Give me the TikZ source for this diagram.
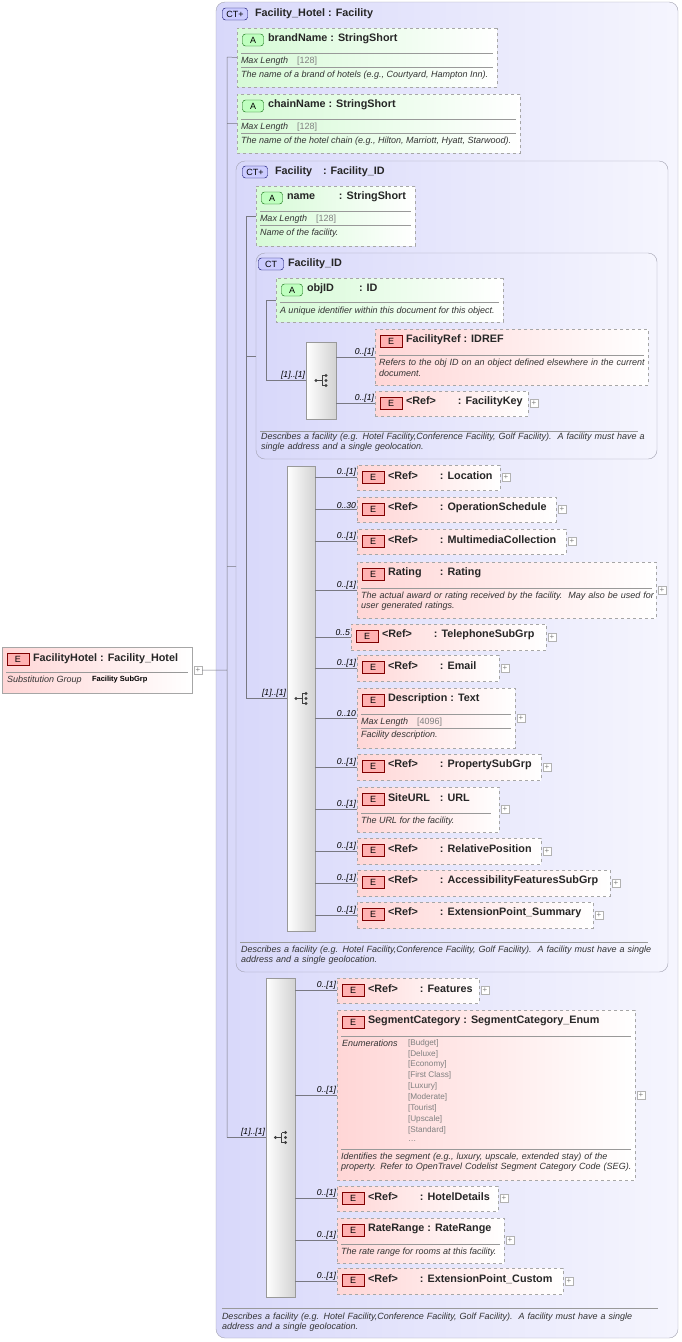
\documentclass[tikz,border=0pt]{standalone}
\usepackage{fontspec}
\setmainfont{Liberation Sans}
\usetikzlibrary{arrows.meta,positioning,shapes.misc}

\definecolor{elfill}{RGB}{255,214,214}
\definecolor{atfill}{RGB}{214,250,214}
\definecolor{ctfill}{RGB}{216,216,250}
\definecolor{ctedge}{RGB}{160,160,175}
\definecolor{wirec}{RGB}{120,120,130}

\newcommand\ttlfont{\fontsize{10.8}{11}\selectfont\bfseries}
\newcommand\nm[1]{\makebox[52pt][l]{#1}}
% id, x, y, w, h, box style, badge style, name, type
\newcommand\ebox[9]{%
  \node[#6, minimum width=#4, minimum height=#5, anchor=north west] (#1) at (#2,#3) {};
  \node[#7] (#1-b) at ([xshift=16,yshift=-12]#1.north west) {};
  \node[ttl, anchor=west] (#1-t) at ([xshift=31,yshift=-11]#1.north west) {#8: #9};}
\newcommand\plusbox[1]{\node[plus, right=2pt of #1] (#1-p) {};}
\newcommand\child[3]{%
  \draw[wire] (#1.east |- #2.west) -- (#2.west)
    node[mult, pos=1, anchor=south east] {#3};}

\begin{document}
\hyphenpenalty=10000 \exhyphenpenalty=10000
\begin{tikzpicture}[x=1pt,y=-1pt,
  every node/.style={inner sep=0pt, outer sep=0pt},
  ebox/.style={draw=gray!70, dashed, left color=elfill, right color=white},
  abox/.style={chamfered rectangle, chamfered rectangle corners={north west,south west},
    chamfered rectangle xsep=4pt, draw=gray!70, dashed, left color=atfill, right color=white},
  ebadge/.style={draw=red!50!black, fill=red!30, minimum width=22, minimum height=12,
    label={[font=\fontsize{9}{9}\selectfont]center:E}},
  abadge/.style={draw=green!40!black, fill=green!25, rounded corners=3pt, minimum width=21,
    minimum height=12, label={[font=\fontsize{9}{9}\selectfont]center:A}},
  ctbox/.style={draw=ctedge, rounded corners=9pt, left color=ctfill, right color=ctfill!25},
  ctbadge/.style={draw=blue!40!black, fill=blue!20, rounded corners=3pt, minimum width=25,
    minimum height=12, font=\fontsize{9}{9}\selectfont},
  seqbox/.style={draw=gray!80, left color=white, right color=gray!35},
  ttl/.style={font=\ttlfont, text=black!85},
  note/.style={anchor=west, font=\fontsize{9}{10.5}\selectfont\itshape, text=black!80},
  enumv/.style={anchor=west, font=\fontsize{8.2}{9}\selectfont, text=gray},
  mult/.style={font=\fontsize{8.6}{9}\selectfont\itshape, inner sep=1pt},
  wire/.style={draw=wirec, line width=.5pt},
  sepl/.style={draw=gray!80, line width=.5pt},
  plus/.style={draw=gray!60, minimum size=8pt, fill=white,
    label={[gray, font=\fontsize{8}{8}\selectfont]center:+}}]
\useasboundingbox (0,0) rectangle (681,1342);

% containers
\node[ctbox, minimum width=462, minimum height=1336, anchor=north west] (hotel) at (216,2) {};
\node[ctbadge] (hotel-b) at (235,14) {CT+};
\node[ttl, anchor=west] at (255,14) {Facility\_Hotel : Facility};
\node[ctbox, minimum width=432, minimum height=811, anchor=north west] (fac) at (236,161) {};
\node[ctbadge] (fac-b) at (255,172) {CT+};
\node[ttl, anchor=west] at (275,172) {Facility\quad: Facility\_ID};
\node[ctbox, minimum width=401, minimum height=206, anchor=north west] (facid) at (256,253) {};
\node[ctbadge] (facid-b) at (271,264) {CT};
\node[ttl, anchor=west] at (288,264) {Facility\_ID};

% root element
\node[draw=gray!70, left color=elfill, right color=white, minimum width=190, minimum height=46,
  anchor=north west] (fh) at (2,647) {};
\node[ebadge] (fh-b) at (18,659) {};
\node[ttl, anchor=west] at (33,659) {FacilityHotel : Facility\_Hotel};
\draw[sepl] (6,672) -- (188,672);
\node[note] at (7,680) {Substitution Group};
\node[anchor=west, font=\fontsize{7.5}{8}\selectfont\bfseries] at (92,680) {Facility SubGrp};
\plusbox{fh}

% sequences
\node[seqbox, minimum width=30, minimum height=77, anchor=north west] (seq1) at (306,342) {};
\node[seqbox, minimum width=28, minimum height=465, anchor=north west] (seq2) at (287,466) {};
\node[seqbox, minimum width=29, minimum height=319, anchor=north west] (seq3) at (266,978) {};
\foreach \s in {seq1,seq2,seq3}{
  \fill[black!75] ([xshift=-5]\s.center) circle (1.6pt);
  \draw[black!75, line width=.7pt] ([xshift=-5]\s.center) -- ([xshift=1]\s.center)
    ([xshift=1,yshift=-5]\s.center) -- ([xshift=1,yshift=5]\s.center)
    ([xshift=1,yshift=-5]\s.center) -- ([xshift=5,yshift=-5]\s.center)
    ([xshift=1,yshift=5]\s.center) -- ([xshift=5,yshift=5]\s.center);
  \foreach \d in {-5,0,5} \fill[black!75] ([xshift=5,yshift=\d]\s.center) circle (1.6pt);
}

% attributes and elements
\ebox{brand}{237}{28}{260}{59}{abox}{abadge}{brandName }{StringShort}
\draw[sepl] (241,53) -- (493,53); \draw[sepl] (241,67) -- (493,67);
\node[note] at (241,61) {Max Length\quad{\upshape\color{gray}[128]}};
\node[note] at (241,75) {The name of a brand of hotels (e.g., Courtyard, Hampton Inn).};
\ebox{chain}{237}{94}{283}{59}{abox}{abadge}{chainName }{StringShort}
\draw[sepl] (241,119) -- (516,119); \draw[sepl] (241,133) -- (516,133);
\node[note] at (241,127) {Max Length\quad{\upshape\color{gray}[128]}};
\node[note] at (241,141) {The name of the hotel chain (e.g., Hilton, Marriott, Hyatt, Starwood).};
\ebox{name}{256}{186}{159}{60}{abox}{abadge}{\makebox[52pt][l]{name}}{StringShort}
\draw[sepl] (260,211) -- (411,211); \draw[sepl] (260,225) -- (411,225);
\node[note] at (260,219) {Max Length\quad{\upshape\color{gray}[128]}};
\node[note] at (260,233) {Name of the facility.};
\ebox{objid}{276}{278}{227}{44}{abox}{abadge}{\makebox[52pt][l]{objID}}{ID}
\draw[sepl] (280,302) -- (499,302);
\node[note] at (280,311) {A unique identifier within this document for this object.};
\ebox{fref}{375}{329}{273}{56}{ebox}{ebadge}{FacilityRef }{IDREF}
\draw[sepl] (379,355) -- (644,355);
\node[note, align=left, text width=268] at (379,368) {Refers to the obj ID on an object defined elsewhere in the current document.};
\ebox{fkey}{375}{391}{153}{25}{ebox}{ebadge}{\nm{<Ref>}}{FacilityKey}
\plusbox{fkey}
\draw[sepl] (260,431) -- (638,431);
\node[note, align=left, text width=392] at (261,442) {Describes a facility (e.g. Hotel Facility,Conference Facility, Golf Facility).\ \ A facility must have a single address and a single geolocation.};

% Facility children
\ebox{loc}{357}{465}{143}{25}{ebox}{ebadge}{\nm{<Ref>}}{Location}
\ebox{opsch}{357}{497}{199}{25}{ebox}{ebadge}{\nm{<Ref>}}{OperationSchedule}
\ebox{mmc}{357}{529}{209}{25}{ebox}{ebadge}{\nm{<Ref>}}{MultimediaCollection}
\ebox{rating}{357}{562}{299}{56}{ebox}{ebadge}{\nm{Rating}}{Rating}
\draw[sepl] (361,588) -- (652,588);
\node[note, align=left, text width=294] at (361,601) {The actual award or rating received by the facility.\ \ May also be used for user generated ratings.};
\ebox{tel}{351}{624}{195}{26}{ebox}{ebadge}{\nm{<Ref>}}{TelephoneSubGrp}
\ebox{email}{357}{655}{142}{26}{ebox}{ebadge}{\nm{<Ref>}}{Email}
\ebox{descr}{357}{688}{158}{60}{ebox}{ebadge}{Description }{Text}
\draw[sepl] (361,714) -- (511,714); \draw[sepl] (361,728) -- (511,728);
\node[note] at (361,722) {Max Length\quad{\upshape\color{gray}[4096]}};
\node[note] at (361,735) {Facility description.};
\ebox{prop}{357}{754}{184}{26}{ebox}{ebadge}{\nm{<Ref>}}{PropertySubGrp}
\ebox{site}{357}{787}{142}{45}{ebox}{ebadge}{\nm{SiteURL}}{URL}
\draw[sepl] (361,813) -- (491,813);
\node[note] at (361,821) {The URL for the facility.};
\ebox{relpos}{357}{838}{184}{26}{ebox}{ebadge}{\nm{<Ref>}}{RelativePosition}
\ebox{access}{357}{870}{253}{26}{ebox}{ebadge}{\nm{<Ref>}}{AccessibilityFeaturesSubGrp}
\ebox{extsum}{357}{902}{236}{26}{ebox}{ebadge}{\nm{<Ref>}}{ExtensionPoint\_Summary}
\foreach \e in {loc,opsch,mmc,rating,tel,email,descr,prop,site,relpos,access,extsum} {\plusbox{\e}}
\draw[sepl] (240,942) -- (648,942);
\node[note, align=left, text width=415] at (241,955) {Describes a facility (e.g. Hotel Facility,Conference Facility, Golf Facility).\ \ A facility must have a single address and a single geolocation.};

% Facility_Hotel children
\ebox{feat}{337}{978}{142}{25}{ebox}{ebadge}{\nm{<Ref>}}{Features}
\ebox{segcat}{337}{1010}{298}{170}{ebox}{ebadge}{SegmentCategory }{SegmentCategory\_Enum}
\draw[sepl] (341,1036) -- (631,1036); \draw[sepl] (341,1149) -- (631,1149);
\node[note] at (342,1043) {Enumerations};
\foreach \v [count=\i from 0] in {[Budget],[Deluxe],[Economy],[First Class],[Luxury],[Moderate],[Tourist],[Upscale],[Standard]}
  \node[enumv] at (408,1043+10.9*\i) {\v};
\node[enumv] at (408,1141) {\ldots};
\node[note, align=left, text width=294] at (341,1162) {Identifies the segment (e.g., luxury, upscale, extended stay) of the property. Refer to OpenTravel Codelist Segment Category Code (SEG).};
\ebox{hdet}{337}{1186}{161}{25}{ebox}{ebadge}{\nm{<Ref>}}{HotelDetails}
\ebox{rate}{337}{1218}{167}{45}{ebox}{ebadge}{RateRange }{RateRange}
\draw[sepl] (341,1244) -- (500,1244);
\node[note] at (341,1252) {The rate range for rooms at this facility.};
\ebox{extcus}{337}{1268}{226}{26}{ebox}{ebadge}{\nm{<Ref>}}{ExtensionPoint\_Custom}
\foreach \e in {feat,segcat,hdet,rate,extcus} {\plusbox{\e}}
\draw[sepl] (222,1308) -- (658,1308);
\node[note, align=left, text width=430] at (222,1322) {Describes a facility (e.g. Hotel Facility,Conference Facility, Golf Facility).\ \ A facility must have a single address and a single geolocation.};

% wiring
\coordinate (tr1) at (227,57); \coordinate (tr2) at (246,216); \coordinate (tr3) at (266,300);
\draw[wire] (tr1) -- (tr1 |- seq3.west) (tr1) -- (brand.west)
  (tr1 |- chain.west) -- (chain.west) (tr1 |- fac.west) -- (fac.west)
  (fh-p.east) -- (tr1 |- fh-p.east);
\draw[wire] (tr1 |- seq3.west) -- (seq3.west) node[mult, pos=1, anchor=south east] {[1]..[1]};
\draw[wire] (tr2) -- (tr2 |- seq2.west) (tr2) -- (name.west) (tr2 |- facid.west) -- (facid.west);
\draw[wire] (tr2 |- seq2.west) -- (seq2.west) node[mult, pos=1, anchor=south east] {[1]..[1]};
\draw[wire] (tr3) -- (tr3 |- seq1.west) (tr3) -- (objid.west);
\draw[wire] (tr3 |- seq1.west) -- (seq1.west) node[mult, pos=1, anchor=south east] {[1]..[1]};
\child{seq1}{fref}{0..[1]} \child{seq1}{fkey}{0..[1]}
\foreach \e/\m in {loc/0..[1],opsch/0..30,mmc/0..[1],rating/0..[1],tel/0..5,email/0..[1],
  descr/0..10,prop/0..[1],site/0..[1],relpos/0..[1],access/0..[1],extsum/0..[1]}
  {\child{seq2}{\e}{\m}}
\foreach \e in {feat,segcat,hdet,rate,extcus} {\child{seq3}{\e}{0..[1]}}
\end{tikzpicture}
\end{document}
